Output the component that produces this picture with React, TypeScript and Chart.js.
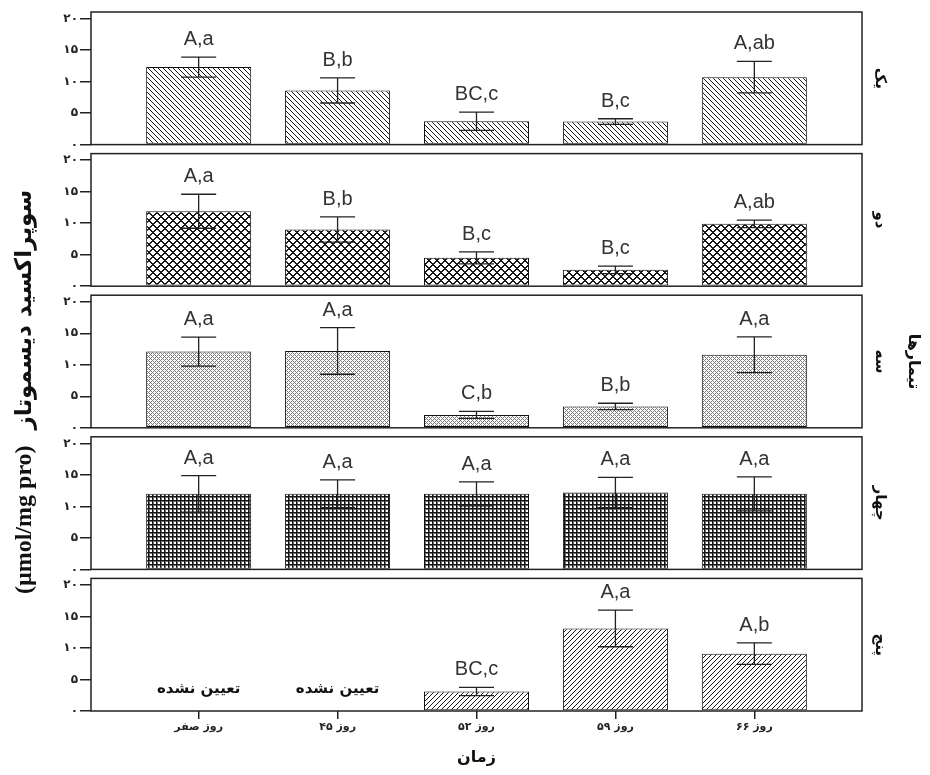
import React, { useEffect, useRef } from 'react';
import { Chart, registerables } from 'chart.js';

Chart.register(...registerables);

// ---------- data ----------
const categories = ['روز صفر', 'روز ۴۵', 'روز ۵۲', 'روز ۵۹', 'روز ۶۶'];
const treatments = ['یک', 'دو', 'سه', 'چهار', 'پنج'];
const yTickValues = [0, 5, 10, 15, 20];
const yTickLabels = ['۰', '۵', '۱۰', '۱۵', '۲۰'];

const t1Means = [12.3, 8.6, 3.7, 3.65, 10.7];
const t1Errors = [1.6, 2.0, 1.45, 0.45, 2.5];
const t1Letters = ['A,a', 'B,b', 'BC,c', 'B,c', 'A,ab'];

const t2Means = [11.9, 9.0, 4.5, 2.6, 9.9];
const t2Errors = [2.7, 2.0, 0.95, 0.6, 0.6];
const t2Letters = ['A,a', 'B,b', 'B,c', 'B,c', 'A,ab'];

const t3Means = [12.1, 12.2, 2.05, 3.4, 11.6];
const t3Errors = [2.3, 3.7, 0.55, 0.5, 2.85];
const t3Letters = ['A,a', 'A,a', 'C,b', 'B,b', 'A,a'];

const t4Means = [12.0, 12.0, 12.0, 12.2, 12.0];
const t4Errors = [2.9, 2.2, 1.9, 2.4, 2.7];
const t4Letters = ['A,a', 'A,a', 'A,a', 'A,a', 'A,a'];

const t5Means = [null, null, 3.1, 13.1, 9.1];
const t5Errors = [null, null, 0.65, 2.9, 1.7];
const t5Letters = ['', '', 'BC,c', 'A,a', 'A,b'];

const notDetermined = 'تعیین نشده';
const yAxisTitleLatin = '(µmol/mg pro)';
const yAxisTitlePersian = 'سوپراکسید دیسموتاز';
const xAxisTitle = 'زمان';
const rightTitle = 'تیمارها';

const allMeans = [t1Means, t2Means, t3Means, t4Means, t5Means];
const allErrors = [t1Errors, t2Errors, t3Errors, t4Errors, t5Errors];
const allLetters = [t1Letters, t2Letters, t3Letters, t4Letters, t5Letters];

// ---------- layout constants ----------
const PANEL_MAX = 21.05;
const PANEL_GAP = 1.43;
const panelIds = ['p1', 'p2', 'p3', 'p4', 'p5'];

function makePattern(ctx: CanvasRenderingContext2D, size: number, fn: (x: number, y: number) => number) {
  const c = document.createElement('canvas');
  c.width = size;
  c.height = size;
  const g = c.getContext('2d')!;
  const img = g.createImageData(size, size);
  for (let y = 0; y < size; y++) {
    for (let x = 0; x < size; x++) {
      const v = fn(x, y);
      const i = (y * size + x) * 4;
      img.data[i] = v;
      img.data[i + 1] = v;
      img.data[i + 2] = v;
      img.data[i + 3] = 255;
    }
  }
  g.putImageData(img, 0, 0);
  return ctx.createPattern(c, 'repeat')!;
}

const mod = (a: number, n: number) => ((a % n) + n) % n;

export default function App() {
  const ref = useRef<HTMLCanvasElement | null>(null);

  useEffect(() => {
    const canvas = ref.current!;
    const ctx = canvas.getContext('2d')!;

    const patterns = [
      makePattern(ctx, 5, (x, y) => (mod(x - y, 5) === 0 ? 25 : 255)),
      makePattern(ctx, 8, (x, y) => {
        const a = mod(x - y, 8);
        const b = mod(x + y, 8);
        return a <= 1 || b <= 1 ? 25 : 255;
      }),
      makePattern(ctx, 4, (x, y) => (mod(x - y, 4) === 0 || mod(x + y, 4) === 0 ? 120 : 255)),
      makePattern(ctx, 4, (x, y) => {
        if (x % 4 === 0 || y % 4 === 0) return 20;
        if (x % 4 === 1 || y % 4 === 1) return 110;
        return 255;
      }),
      makePattern(ctx, 5, (x, y) => (mod(x + y, 5) === 0 ? 25 : 255)),
    ];

    const scales: any = {
      x: {
        type: 'linear',
        position: 'bottom',
        min: -0.775,
        max: 4.775,
        offset: false,
        afterBuildTicks: (s: any) => {
          s.ticks = categories.map((_, i) => ({ value: i }));
        },
        ticks: {
          autoSkip: false,
          maxRotation: 0,
          padding: 2,
          color: '#222',
          font: { family: "'DejaVu Sans', sans-serif", size: 11, weight: 'bold' },
          callback: (v: any) => categories[Math.round(Number(v))] ?? '',
        },
        grid: { offset: false, drawOnChartArea: false, drawTicks: true, tickLength: 8, color: '#222', lineWidth: 1.5 },
        border: { display: false },
        title: {
          display: true,
          text: xAxisTitle,
          color: '#111',
          font: { family: "'DejaVu Sans', sans-serif", size: 16, weight: 'bold' },
          padding: { top: 4, bottom: 8 },
        },
        afterFit: (s: any) => {
          s.height = 64;
        },
      },
    };

    // stacked axes on the left are laid out in reverse definition order,
    // so the bottom panel is defined first.
    [...panelIds].reverse().forEach((id) => {
      const i = panelIds.indexOf(id);
      const last = i === panelIds.length - 1;
      scales[id] = {
        type: 'linear',
        position: 'left',
        stack: 'panels',
        stackWeight: last ? PANEL_MAX : PANEL_MAX + PANEL_GAP,
        min: last ? 0 : -PANEL_GAP,
        max: PANEL_MAX,
        afterBuildTicks: (s: any) => {
          s.ticks = yTickValues.map((v) => ({ value: v }));
        },
        ticks: {
          padding: 2,
          color: '#222',
          font: { family: "'DejaVu Sans', sans-serif", size: 12, weight: 'bold' },
          callback: (v: any) => {
            const k = yTickValues.indexOf(Number(v));
            return k >= 0 ? yTickLabels[k] : '';
          },
        },
        grid: { drawOnChartArea: false, drawTicks: true, tickLength: 11, color: '#222', lineWidth: 1.5 },
        border: { display: false },
        afterFit: (s: any) => {
          s.width = 46;
        },
      };
    });

    const overlay = {
      id: 'overlay',
      afterDatasetsDraw(chart: any) {
        const c = chart.ctx as CanvasRenderingContext2D;
        const { left, right, top, bottom } = chart.chartArea;
        const xs = chart.scales.x;
        c.save();
        panelIds.forEach((id, i) => {
          const ys = chart.scales[id];
          const boxTop = ys.getPixelForValue(PANEL_MAX);
          const boxBottom = ys.getPixelForValue(0);
          c.strokeStyle = '#222';
          c.lineWidth = 1.5;
          c.strokeRect(left, boxTop, right - left, boxBottom - boxTop);

          allMeans[i].forEach((m, j) => {
            const cx = xs.getPixelForValue(j);
            if (m == null) {
              c.fillStyle = '#111';
              c.font = "bold 15px 'DejaVu Sans', sans-serif";
              c.textAlign = 'center';
              c.textBaseline = 'middle';
              c.fillText(notDetermined, cx, ys.getPixelForValue(3.5));
              return;
            }
            const e = allErrors[i][j] as number;
            const yH = ys.getPixelForValue(m + e);
            const yL = ys.getPixelForValue(m - e);
            c.strokeStyle = '#222';
            c.lineWidth = 1.3;
            c.beginPath();
            c.moveTo(cx, yH);
            c.lineTo(cx, yL);
            c.moveTo(cx - 17.5, yH);
            c.lineTo(cx + 17.5, yH);
            c.moveTo(cx - 17.5, yL);
            c.lineTo(cx + 17.5, yL);
            c.stroke();
            c.fillStyle = '#333';
            c.font = "20px 'Liberation Sans', Arial, sans-serif";
            c.textAlign = 'center';
            c.textBaseline = 'alphabetic';
            c.fillText(allLetters[i][j], cx, yH - 12);
          });

          // panel label (right side, rotated)
          c.save();
          c.translate(880, (boxTop + boxBottom) / 2);
          c.rotate(Math.PI / 2);
          c.fillStyle = '#111';
          c.font = "bold 15px 'DejaVu Sans', sans-serif";
          c.textAlign = 'center';
          c.textBaseline = 'middle';
          c.fillText(treatments[i], 0, 0);
          c.restore();
        });

        // right overall title
        c.save();
        c.translate(913, (top + bottom) / 2);
        c.rotate(Math.PI / 2);
        c.fillStyle = '#111';
        c.font = "bold 16px 'DejaVu Sans', sans-serif";
        c.textAlign = 'center';
        c.textBaseline = 'middle';
        c.fillText(rightTitle, 0, 0);
        c.restore();

        // left overall title: Latin part below, Persian part above (rotated -90°)
        c.save();
        c.translate(25, 392);
        c.rotate(-Math.PI / 2);
        c.fillStyle = '#111';
        c.textBaseline = 'middle';
        const latinFont = "bold 24px 'Liberation Serif', serif";
        const persianFont = "bold 23px 'DejaVu Sans', sans-serif";
        c.font = latinFont;
        const wL = c.measureText(yAxisTitleLatin).width;
        c.font = persianFont;
        const wP = c.measureText(yAxisTitlePersian).width;
        const gap = 16;
        const total = wL + gap + wP;
        c.textAlign = 'left';
        c.font = latinFont;
        c.fillText(yAxisTitleLatin, -total / 2, 0);
        c.font = persianFont;
        c.fillText(yAxisTitlePersian, -total / 2 + wL + gap, 0);
        c.restore();
        c.restore();
      },
    };

    const chart = new Chart(ctx, {
      type: 'bar',
      data: {
        datasets: allMeans.map((means, i) => ({
          label: treatments[i],
          data: means.map((m, j) => ({ x: j, y: m })),
          xAxisID: 'x',
          yAxisID: panelIds[i],
          backgroundColor: patterns[i],
          borderColor: '#111',
          borderWidth: 1,
          borderSkipped: false,
          grouped: false,
          categoryPercentage: 1,
          barPercentage: 0.756,
        })) as any,
      },
      options: {
        animation: false,
        responsive: false,
        events: [],
        layout: { padding: { left: 45, right: 68, top: 12, bottom: 0 } },
        plugins: { legend: { display: false }, tooltip: { enabled: false } },
        scales,
      },
      plugins: [overlay],
    });

    return () => chart.destroy();
  }, []);

  return (
    <div style={{ position: 'absolute', left: 0, top: 0, width: 930, height: 775, background: '#fff' }}>
      <canvas ref={ref} width={930} height={775} />
    </div>
  );
}
